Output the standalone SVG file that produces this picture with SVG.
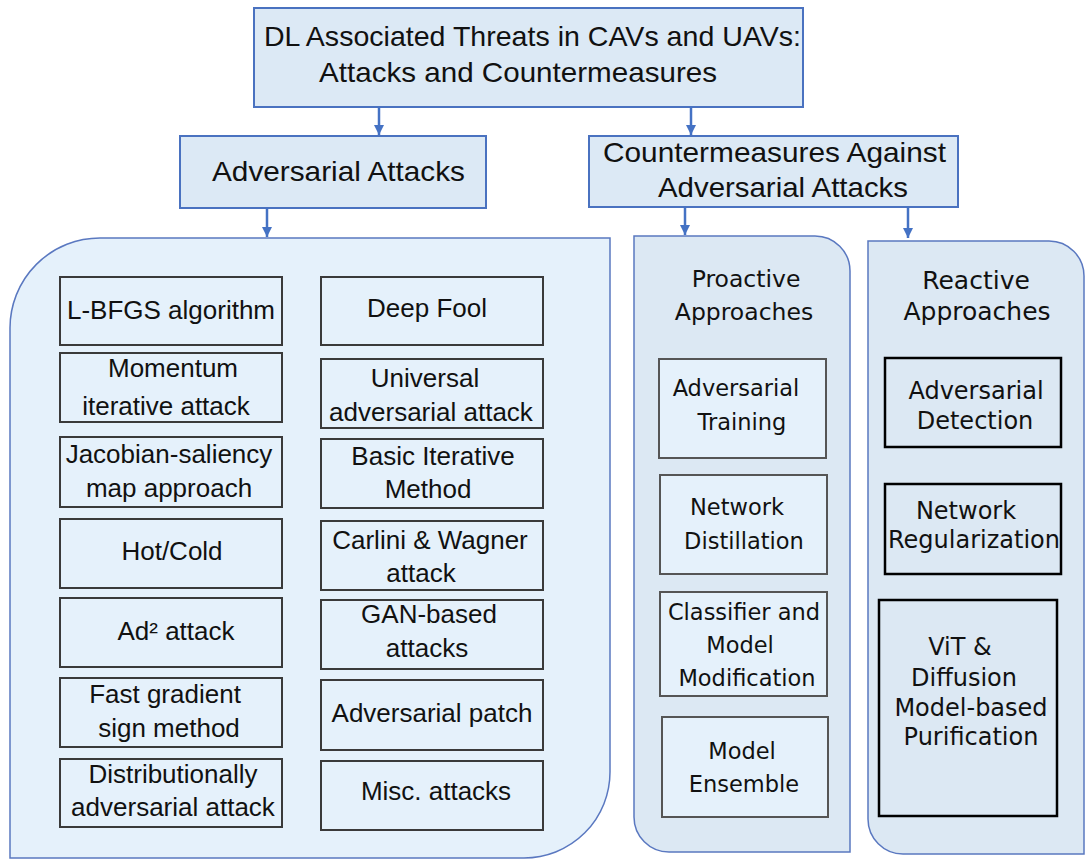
<svg xmlns="http://www.w3.org/2000/svg" width="1091" height="860" viewBox="0 0 1091 860">
<defs>
<marker id="ah" viewBox="0 0 10 10" refX="10" refY="5" markerWidth="11" markerHeight="10" markerUnits="userSpaceOnUse" orient="auto">
<path d="M0,0 L10,5 L0,10 Z" fill="#4472c4"/>
</marker>
<style>
.hdr{fill:#dce9f5;stroke:#4a72c0;stroke-width:2}
.pnl{fill:#e5f1fb;stroke:#5a78c0;stroke-width:1.5}
.pnl2{fill:#dce8f3;stroke:#5a78c0;stroke-width:1.5}
.bx{fill:#e5f1fb;stroke:#3a3a3a;stroke-width:2}
.pbx{fill:#e5f1fb;stroke:#555;stroke-width:2}
.rbx{fill:#dce8f3;stroke:#000;stroke-width:2.5}
.conn{stroke:#4472c4;stroke-width:2.5;fill:none}
text{fill:#111}
.h{font-family:"Liberation Sans",Arial,sans-serif;font-size:28px}
.t{font-family:"Liberation Sans",Arial,sans-serif;font-size:26px;text-anchor:middle}
.p{font-family:"DejaVu Sans",Verdana,sans-serif;font-size:22.5px;text-anchor:middle}
.pt{font-family:"DejaVu Sans",Verdana,sans-serif;font-size:23.5px;text-anchor:middle}
.r{font-family:"DejaVu Sans",Verdana,sans-serif;font-size:24px;text-anchor:middle}
.rt{font-family:"DejaVu Sans",Verdana,sans-serif;font-size:25px;text-anchor:middle}
</style>
</defs>

<g id="root">
<rect class="hdr" x="254" y="8" width="549" height="99"/>
<text class="h" x="264" y="46" textLength="537" lengthAdjust="spacingAndGlyphs">DL Associated Threats in CAVs and UAVs:</text>
<text class="h" x="319" y="82" textLength="398" lengthAdjust="spacingAndGlyphs">Attacks and Countermeasures</text>
</g>

<g id="adv-attacks">
<rect class="hdr" x="180" y="136" width="306" height="72"/>
<text class="h" x="212" y="181" font-size="29" textLength="253" lengthAdjust="spacingAndGlyphs">Adversarial Attacks</text>
</g>

<g id="countermeasures">
<rect class="hdr" x="589" y="136" width="369" height="71"/>
<text class="h" x="603" y="162" textLength="343" lengthAdjust="spacingAndGlyphs">Countermeasures Against</text>
<text class="h" x="658" y="197" textLength="250" lengthAdjust="spacingAndGlyphs">Adversarial Attacks</text>
</g>

<g id="connectors">
<line class="conn" x1="379" y1="107" x2="379" y2="135" marker-end="url(#ah)"/>
<line class="conn" x1="691" y1="107" x2="691" y2="135" marker-end="url(#ah)"/>
<line class="conn" x1="267" y1="208" x2="267" y2="237" marker-end="url(#ah)"/>
<line class="conn" x1="685" y1="207" x2="685" y2="235" marker-end="url(#ah)"/>
<line class="conn" x1="908" y1="207" x2="908" y2="238" marker-end="url(#ah)"/>
</g>

<g id="attacks-panel">
<path class="pnl" d="M10,328 A90,90 0 0 1 100,238 L610,238 L610,772 A86,86 0 0 1 524,858 L10,858 Z"/>
</g>

<g id="lbfgs"><rect class="bx" x="60" y="277" width="222" height="68"/><text class="t" x="171" y="319">L-BFGS algorithm</text></g>
<g id="momentum"><rect class="bx" x="60" y="353" width="222" height="69"/><text class="t" x="173" y="377">Momentum</text><text class="t" x="166" y="415">iterative attack</text></g>
<g id="jsma"><rect class="bx" x="60" y="437" width="222" height="70"/><text class="t" x="169" y="463">Jacobian-saliency</text><text class="t" x="169" y="497">map approach</text></g>
<g id="hotcold"><rect class="bx" x="60" y="519" width="222" height="69"/><text class="t" x="172" y="560">Hot/Cold</text></g>
<g id="ad2"><rect class="bx" x="60" y="598" width="222" height="69"/><text class="t" x="176" y="640">Ad² attack</text></g>
<g id="fgsm"><rect class="bx" x="60" y="678" width="222" height="69"/><text class="t" x="165" y="703">Fast gradient</text><text class="t" x="169" y="737">sign method</text></g>
<g id="distrib"><rect class="bx" x="60" y="759" width="222" height="68"/><text class="t" x="173" y="783">Distributionally</text><text class="t" x="173" y="816">adversarial attack</text></g>

<g id="deepfool"><rect class="bx" x="321" y="277" width="222" height="68"/><text class="t" x="427" y="317">Deep Fool</text></g>
<g id="universal"><rect class="bx" x="321" y="359" width="222" height="69"/><text class="t" x="425" y="387">Universal</text><text class="t" x="431" y="421">adversarial attack</text></g>
<g id="bim"><rect class="bx" x="321" y="439" width="222" height="69"/><text class="t" x="433" y="465">Basic Iterative</text><text class="t" x="428" y="498">Method</text></g>
<g id="cw"><rect class="bx" x="321" y="521" width="222" height="69"/><text class="t" x="430" y="549">Carlini &amp; Wagner</text><text class="t" x="421" y="582">attack</text></g>
<g id="gan"><rect class="bx" x="321" y="600" width="222" height="69"/><text class="t" x="429" y="623">GAN-based</text><text class="t" x="427" y="657">attacks</text></g>
<g id="patch"><rect class="bx" x="321" y="680" width="222" height="70"/><text class="t" x="432" y="722">Adversarial patch</text></g>
<g id="misc"><rect class="bx" x="321" y="761" width="222" height="69"/><text class="t" x="436" y="800">Misc. attacks</text></g>

<g id="proactive">
<path class="pnl2" d="M634,236 L815,236 A35,35 0 0 1 850,271 L850,852 L669,852 A35,35 0 0 1 634,817 Z"/>
<text class="pt" x="746" y="287">Proactive</text>
<text class="pt" x="744" y="320">Approaches</text>
</g>
<g id="adv-training"><rect class="pbx" x="659" y="359" width="167" height="99"/><text class="p" x="736" y="396">Adversarial</text><text class="p" x="742" y="430">Training</text></g>
<g id="distillation"><rect class="pbx" x="660" y="475" width="167" height="99"/><text class="p" x="737" y="515">Network</text><text class="p" x="744" y="549">Distillation</text></g>
<g id="classifier"><rect class="pbx" x="660" y="592" width="167" height="104"/><text class="p" x="744" y="620">Classifier and</text><text class="p" x="740" y="653">Model</text><text class="p" x="747" y="686">Modification</text></g>
<g id="ensemble"><rect class="pbx" x="662" y="717" width="166" height="100"/><text class="p" x="742" y="759">Model</text><text class="p" x="744" y="792">Ensemble</text></g>

<g id="reactive">
<path class="pnl2" d="M868,241 L1049,241 A35,35 0 0 1 1084,276 L1084,854 L903,854 A35,35 0 0 1 868,819 Z"/>
<text class="rt" x="976" y="289">Reactive</text>
<text class="rt" x="977" y="320">Approaches</text>
</g>
<g id="detection"><rect class="rbx" x="885" y="358" width="176" height="89"/><text class="r" x="976" y="399">Adversarial</text><text class="r" x="975" y="429">Detection</text></g>
<g id="regularization"><rect class="rbx" x="885" y="484" width="176" height="90"/><text class="r" x="966" y="519">Network</text><text class="r" x="974" y="548">Regularization</text></g>
<g id="purification"><rect class="rbx" x="879" y="600" width="178" height="216"/><text class="r" x="960" y="655">ViT &amp;</text><text class="r" x="964" y="686">Diffusion</text><text class="r" x="971" y="716">Model-based</text><text class="r" x="971" y="745">Purification</text></g>
</svg>
